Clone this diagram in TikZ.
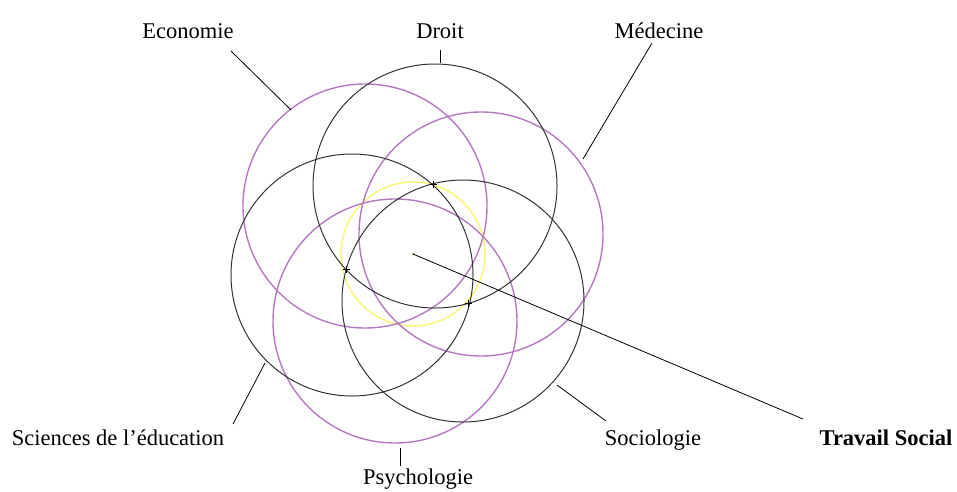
\documentclass[tikz,border=0pt]{standalone}
\usepackage{fontspec}
\setmainfont{Liberation Serif}
\usetikzlibrary{calc}
\definecolor{mauve}{RGB}{180,122,192}
\definecolor{paleyellow}{RGB}{250,244,120}
\tikzset{
  bdisc/.style={line width=1pt, draw=black!80},
  pdisc/.style={line width=1.4pt, draw=mauve},
  lab/.style={anchor=base, inner sep=0pt, font=\fontsize{22.5}{27}\selectfont},
}

\begin{document}
\begin{tikzpicture}[x=1pt,y=-1pt]
  \useasboundingbox (0,0) rectangle (957,491);

  % 圆心
  \coordinate (O) at (413,254);
  \coordinate (Eco) at (365,206);
  \coordinate (Dro) at (435,186);
  \coordinate (Med) at (481,234);
  \coordinate (Sed) at (352,275);
  \coordinate (Psy) at (395,321);
  \coordinate (Soc) at (463,301);

  % 交点
  \coordinate (X1) at (433,184);
  \coordinate (X2) at (346,269);
  \coordinate (X3) at (468,303);

  % 圆
  \draw[draw=paleyellow, line width=1.5pt] (O) circle (72pt);
  \draw[pdisc] (Eco) circle (122pt);
  \draw[pdisc] (Med) circle (122pt);
  \draw[pdisc] (Psy) circle (122pt);
  \draw[bdisc] (Dro) circle (122pt);
  \draw[bdisc] (Sed) circle (121pt);
  \draw[bdisc] (Soc) circle (121pt);
  \fill[paleyellow!80!black] (O) circle (1.5pt);

  % 交点标记
  \foreach \c in {X1,X2,X3}
    \draw[line width=0.8pt] ([shift={(-3.5,0)}]\c) -- ([shift={(3.5,0)}]\c)
      ([shift={(0,-3.5)}]\c) -- ([shift={(0,3.5)}]\c);

  % 标签
  \node[lab] (ecoL) at (188,38) {Economie};
  \node[lab] (droL) at (440,38) {Droit};
  \node[lab] (medL) at (659,38) {Médecine};
  \node[lab] (sedL) at (118,445) {Sciences de l’éducation};
  \node[lab] (psyL) at (418,484) {Psychologie};
  \node[lab] (socL) at (653,445) {Sociologie};
  \node[lab, font=\fontsize{22.5}{27}\selectfont\bfseries] (tsL) at (886,445) {Travail Social};

  % 引线端点
  \coordinate (e1) at (231,51);  \coordinate (e2) at (291,110);
  \coordinate (d1) at (440,50);  \coordinate (d2) at (440,63);
  \coordinate (m1) at (652,43);  \coordinate (m2) at (583,159);
  \coordinate (s1) at (233,424); \coordinate (s2) at (265,363);
  \coordinate (p1) at (400,448); \coordinate (p2) at (400,466);
  \coordinate (o1) at (557,385); \coordinate (o2) at (606,421);
  \coordinate (t2) at (803,419);

  % 引线
  \draw[line width=0.8pt] (e1) -- (e2);
  \draw[line width=0.8pt] (d1) -- (d2);
  \draw[line width=0.8pt] (m1) -- (m2);
  \draw[line width=0.8pt] (s1) -- (s2);
  \draw[line width=0.8pt] (p1) -- (p2);
  \draw[line width=0.8pt] (o1) -- (o2);
  \draw[line width=0.8pt] (O) -- (t2);
\end{tikzpicture}
\end{document}
